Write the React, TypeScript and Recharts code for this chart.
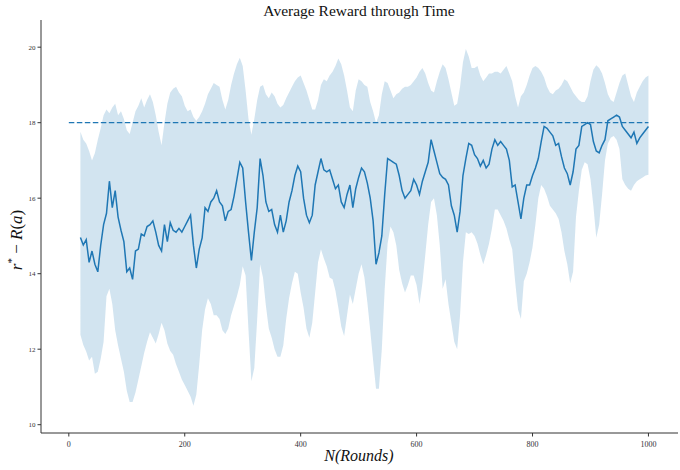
import {
  ComposedChart,
  Area,
  Line,
  XAxis,
  YAxis,
  ReferenceLine,
} from "recharts";

// mean regret per round (every 5 rounds, 20..1000)
const meanReward = [
  14.96, 14.76, 14.9, 14.3, 14.6, 14.25, 14.05, 14.75, 15.3, 15.6,
  16.45, 15.75, 16.2, 15.5, 15.15, 14.85, 14.05, 14.15, 13.85, 14.6,
  14.65, 15.05, 15.0, 15.25, 15.3, 15.4, 15.1, 14.75, 14.6, 15.3,
  14.85, 15.35, 15.15, 15.1, 15.2, 15.1, 15.25, 15.4, 15.55, 14.75,
  14.15, 14.65, 14.95, 15.75, 15.65, 15.9, 16.0, 16.2, 15.9, 15.8,
  15.4, 15.65, 15.7, 16.05, 16.5, 16.95, 16.8, 15.9, 15.1, 14.35,
  15.1, 15.75, 17.05, 16.6, 15.9, 15.65, 15.7, 15.3, 15.1, 15.55,
  15.1, 15.4, 15.9, 16.2, 16.6, 16.85, 16.7, 16.0, 15.55, 15.35,
  15.55, 16.35, 16.7, 17.05, 16.75, 16.7, 16.75, 16.5, 16.25, 16.35,
  15.9, 15.75, 16.1, 16.35, 15.75, 16.25, 16.55, 16.8, 16.7, 16.4,
  16.0, 15.4, 14.25, 14.55, 15.0, 16.1, 17.05, 17.0, 16.95, 16.9,
  16.6, 16.2, 16.0, 16.1, 16.2, 16.5, 16.35, 16.1, 16.45, 16.7,
  16.95, 17.55, 17.25, 16.95, 16.65, 16.55, 16.5, 16.35, 15.8, 15.55,
  15.1, 15.65, 16.6, 17.05, 17.45, 17.4, 17.15, 17.05, 16.85, 17.0,
  16.8, 16.9, 17.3, 17.55, 17.4, 17.5, 17.4, 17.3, 17.0, 16.3,
  16.35, 15.9, 15.45, 16.0, 16.35, 16.35, 16.6, 16.8, 17.05, 17.5,
  17.9, 17.85, 17.75, 17.65, 17.4, 17.45, 17.1, 16.8, 16.65, 16.35,
  16.7, 17.3, 17.4, 17.9, 17.95, 18.0, 17.95, 17.5, 17.25, 17.2,
  17.4, 17.55, 18.05, 18.1, 18.15, 18.2, 18.15, 17.9, 17.8, 17.7,
  17.6, 17.75, 17.45, 17.6, 17.7, 17.8, 17.9,
];

const upperBand = [
  17.76, 17.55, 17.45, 17.25, 17.0, 17.2, 17.55, 17.85, 18.2, 18.35,
  18.25, 18.4, 18.5, 18.2, 18.3, 18.1, 17.8, 17.7, 18.0, 18.3,
  18.45, 18.65, 18.4, 18.6, 18.75, 18.55, 18.2, 17.75, 17.4, 18.0,
  18.5, 18.8, 18.9, 18.95, 18.8, 18.7, 18.45, 18.3, 18.35, 18.15,
  18.05, 18.15, 18.3, 18.5, 18.75, 18.9, 19.05, 19.0, 18.95, 18.6,
  18.35, 18.6, 19.0, 19.3, 19.55, 19.72, 19.5, 18.85, 18.1, 17.68,
  18.1, 18.6, 18.95, 19.0, 18.75, 18.65, 18.8, 18.7, 18.5, 18.4,
  18.47, 18.65, 18.8, 18.95, 19.1, 19.2, 19.25, 19.05, 18.85, 18.6,
  18.35, 18.35, 18.6, 19.0, 19.15, 19.1, 19.25, 19.35, 19.5, 19.7,
  19.55, 19.25, 18.85, 18.4, 18.3, 18.85, 19.15, 19.1, 19.0, 18.95,
  18.55, 18.3, 18.0, 18.2, 18.75, 19.1, 19.05, 18.85, 18.65, 18.75,
  18.8, 18.9, 18.95, 18.95, 19.0, 19.1, 19.2, 19.35, 19.45, 19.3,
  19.05, 18.85, 18.8, 19.1, 19.35, 19.55, 19.45, 19.15, 18.8, 18.45,
  18.5, 18.95, 19.6, 19.95, 19.75, 19.45, 19.45, 19.5, 19.25, 19.1,
  19.2, 19.3, 19.3, 19.35, 19.35, 19.3, 19.4, 19.5, 19.3, 19.1,
  18.7, 18.4, 18.7, 18.8, 19.0, 19.25, 19.45, 19.5, 19.45, 19.35,
  19.2, 18.95, 18.8, 18.75, 18.85, 18.9, 19.0, 19.15, 19.1, 18.95,
  18.8, 18.7, 18.6, 18.55, 18.55, 18.7, 19.1, 19.4, 19.52, 19.45,
  19.3, 19.05, 18.75, 18.6, 18.55, 18.8, 19.05, 19.25, 19.3, 19.0,
  18.7, 18.55, 18.8, 18.95, 19.1, 19.2, 19.25,
];

const lowerBand = [
  12.38, 12.11, 11.94, 11.7, 11.8, 11.35, 11.4, 11.75, 12.2, 13.4,
  13.6, 13.2, 12.5, 12.1, 11.75, 11.4, 10.9, 10.6, 10.6, 10.85,
  11.2, 11.55, 11.9, 12.2, 12.45, 12.3, 12.15, 12.4, 12.7, 12.5,
  12.15, 11.95, 11.85, 11.6, 11.4, 11.2, 11.05, 10.9, 10.75, 10.5,
  10.8, 11.6, 12.5, 13.05, 13.35, 13.2, 12.9, 12.9, 12.8, 12.5,
  12.4, 12.55, 12.9, 13.15, 13.4, 13.7, 14.2, 13.95, 12.5, 11.15,
  11.5, 12.8, 14.25, 13.9, 13.15, 12.55, 12.3, 12.0, 11.8, 11.8,
  12.1, 12.8, 13.35, 13.75, 14.05, 14.0, 13.5, 13.1, 12.55, 12.3,
  12.7, 13.5, 14.3, 14.65, 14.4, 14.2, 13.9, 13.85, 13.55, 13.1,
  12.6, 12.35, 12.9, 13.45, 13.2, 13.6, 14.0, 14.25, 13.9, 13.25,
  12.5, 11.7, 10.95, 10.95, 12.0, 13.6, 14.8, 15.25, 15.1, 14.75,
  14.1, 13.75, 13.5, 13.7, 13.95, 13.95, 13.7, 13.2, 13.75, 14.5,
  15.3, 15.9, 16.0, 15.55, 14.75, 13.6, 13.85, 13.2, 12.7, 12.2,
  12.0, 12.9, 14.3, 15.1, 15.05, 15.1, 15.0, 14.8, 14.5, 14.25,
  14.5, 14.8, 15.2, 15.7, 15.7, 15.55, 15.4, 15.2, 14.9, 14.65,
  13.8, 13.05, 12.8, 13.8, 14.0, 14.3, 14.7, 15.3, 16.0, 16.35,
  16.25, 16.05, 15.8, 15.7, 15.6, 15.45, 15.1, 14.6, 14.25, 13.75,
  14.05, 15.5, 16.2, 16.75, 16.95, 16.9, 16.5, 15.8, 14.95, 15.3,
  16.1, 17.0, 17.45, 17.6, 17.65, 17.55, 17.3, 16.5, 16.35, 16.25,
  16.2, 16.35, 16.45, 16.5, 16.55, 16.6, 16.62,
];

const firstRound = 20;
const roundStep = 5;
const optimum = 18;
const xTicks = [0, 200, 400, 600, 800, 1000];
const yTicks = [10, 12, 14, 16, 18, 20];

const data = meanReward.map((v, i) => ({
  round: firstRound + i * roundStep,
  mean: v,
  band: [lowerBand[i], upperBand[i]],
}));

const serif = "'Liberation Serif', 'Times New Roman', serif";
const tickStyle = { fontSize: 8, fontFamily: serif, fill: "#333" };

export default function App() {
  return (
    <div style={{ position: "absolute", left: 0, top: 0, width: 680, height: 470, background: "#fff" }}>
      <ComposedChart
        width={680}
        height={470}
        data={data}
        margin={{ top: 20, right: 2, bottom: 7, left: 0 }}
      >
        <XAxis
          dataKey="round"
          type="number"
          domain={[-48, 1051]}
          ticks={xTicks}
          tickSize={3.5}
          tickMargin={5}
          height={30}
          tick={tickStyle}
          stroke="#333"
          allowDataOverflow
        />
        <YAxis
          type="number"
          domain={[9.78, 20.72]}
          ticks={yTicks}
          tickSize={3.5}
          tickMargin={2}
          width={41}
          tick={{ ...tickStyle, fontSize: 7 }}
          stroke="#333"
          allowDataOverflow
        />
        <Area
          dataKey="band"
          stroke="none"
          fill="#1f77b4"
          fillOpacity={0.2}
          isAnimationActive={false}
        />
        <ReferenceLine
          segment={[
            { x: 0, y: optimum },
            { x: 1000, y: optimum },
          ]}
          stroke="#1f77b4"
          strokeWidth={1.3}
          strokeDasharray="5.5 2.5"
        />
        <Line
          dataKey="mean"
          stroke="#1f77b4"
          strokeWidth={1.5}
          dot={false}
          isAnimationActive={false}
        />
      </ComposedChart>
      <div
        style={{
          position: "absolute",
          left: 0,
          width: 718,
          top: 2,
          textAlign: "center",
          fontFamily: serif,
          fontSize: 15.5,
          color: "#111",
        }}
      >
        Average Reward through Time
      </div>
      <div
        style={{
          position: "absolute",
          left: 0,
          width: 718,
          top: 447,
          textAlign: "center",
          fontFamily: serif,
          fontStyle: "italic",
          fontSize: 16,
          color: "#111",
        }}
      >
        N(Rounds)
      </div>
      <div
        style={{
          position: "absolute",
          left: 16,
          top: 240,
          transform: "translate(-50%, -50%) rotate(-90deg)",
          whiteSpace: "nowrap",
          fontFamily: serif,
          fontSize: 17,
          color: "#111",
        }}
      >
        <i>r</i>
        <sup style={{ fontSize: 11 }}>*</sup>
        <span> − </span>
        <i>R</i>(<i>a</i>)
      </div>
    </div>
  );
}
